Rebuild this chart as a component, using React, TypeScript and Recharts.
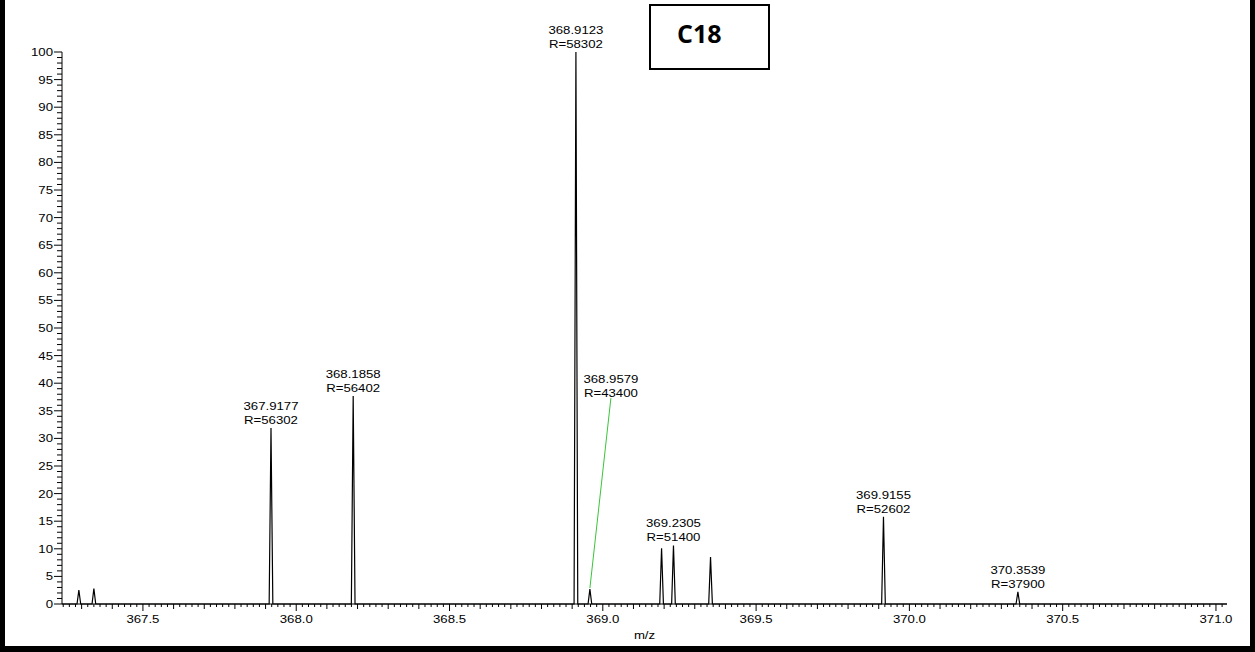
import React from 'react';
import { LineChart, Line, XAxis, YAxis } from 'recharts';

// peak list (m/z, relative abundance, resolution)
const peakMz = [367.291, 367.34, 367.9177, 368.1858, 368.9123, 368.9579, 369.1917, 369.2305, 369.3514, 369.9155, 370.3539];
const peakIntensity = [2.5, 2.8, 31.9, 37.7, 100, 2.7, 10.1, 10.6, 8.5, 15.8, 2.2];
const peakResolution: (number | null)[] = [null, null, 56302, 56402, 58302, 43400, null, 51400, null, 52602, 37900];
const calloutMz = 368.9579;

const xDomain: [number, number] = [367.236, 371.036];
const sampleTitle = 'C18';

const FONT = "'Liberation Sans', Arial, sans-serif";
const SX = 1.2;
const HALF = 0.006;

type Pt = { mz: number; y: number; peak?: number };

// build a stick-like profile: baseline, triangle per peak, baseline
const points: Pt[] = [{ mz: xDomain[0], y: 0 }];
peakMz.forEach((m, i) => {
  points.push({ mz: m - HALF, y: 0 });
  points.push({ mz: m, y: peakIntensity[i], peak: i });
  points.push({ mz: m + HALF, y: 0 });
});
points.push({ mz: xDomain[1], y: 0 });

const yTicks: number[] = [];
for (let i = 0; i <= 100; i++) yTicks.push(i);
const xTicks: number[] = [];
for (let i = 18362; i <= 18551; i++) xTicks.push(i / 50);

const Txt = ({ x, y, anchor = 'middle', size = 11, children }: any) => (
  <text
    transform={`translate(${x},${y}) scale(${SX},1)`}
    textAnchor={anchor}
    fontSize={size}
    fontFamily={FONT}
    fill="#000"
  >
    {children}
  </text>
);

const YTick = (props: any) => {
  const { x, y, payload } = props;
  const v = payload.value;
  const major = v % 5 === 0;
  const len = major ? 8 : 5;
  return (
    <g>
      <line x1={x - len} x2={x} y1={y} y2={y} stroke="#000" strokeWidth={1} />
      {major && (
        <Txt x={x - len - 1} y={y + 4} anchor="end">
          {v}
        </Txt>
      )}
    </g>
  );
};

const XTick = (props: any) => {
  const { x, y, payload } = props;
  const v = payload.value;
  const half = Math.abs(v * 2 - Math.round(v * 2)) < 1e-6;
  const tenth = Math.abs(v * 10 - Math.round(v * 10)) < 1e-6;
  const len = half ? 7 : tenth ? 5 : 3;
  return (
    <g>
      <line x1={x} x2={x} y1={y} y2={y + len} stroke="#000" strokeWidth={1} />
      {half && (
        <Txt x={x} y={y + 19}>
          {v.toFixed(1)}
        </Txt>
      )}
    </g>
  );
};

const PeakLabel = (props: any) => {
  const { x, y, index } = props;
  const p = points[index];
  if (!p || p.peak === undefined) return <g />;
  const res = peakResolution[p.peak];
  if (res == null) return <g />;
  const mz = peakMz[p.peak];
  if (mz === calloutMz) {
    const tx = x + 21;
    const ty = y - 192;
    return (
      <g>
        <line x1={tx} y1={ty + 1} x2={x} y2={y - 1} stroke="#3ac43a" strokeWidth={1} />
        <Txt x={tx} y={ty - 14}>{mz.toFixed(4)}</Txt>
        <Txt x={tx} y={ty}>{`R=${res}`}</Txt>
      </g>
    );
  }
  return (
    <g>
      <Txt x={x} y={y - 18}>{mz.toFixed(4)}</Txt>
      <Txt x={x} y={y - 4}>{`R=${res}`}</Txt>
    </g>
  );
};

export default function App() {
  return (
    <div style={{ position: 'absolute', left: 0, top: 0, width: 1255, height: 652, background: '#000' }}>
      <div style={{ position: 'absolute', left: 5, top: 0, width: 1245, height: 646, background: '#fff' }}>
        <LineChart width={1245} height={646} data={points} margin={{ top: 52, right: 23, bottom: 0, left: 0 }}>
          <XAxis
            dataKey="mz"
            type="number"
            domain={xDomain}
            ticks={xTicks}
            interval={0}
            tickSize={0}
            tickMargin={0}
            height={42}
            axisLine={{ stroke: '#000' }}
            tick={<XTick />}
            label={{
              value: 'm/z',
              content: (p: any) => (
                <Txt x={p.viewBox.x + p.viewBox.width / 2} y={p.viewBox.y + 35}>
                  m/z
                </Txt>
              ),
            }}
          />
          <YAxis
            type="number"
            domain={[0, 100]}
            ticks={yTicks}
            interval={0}
            width={57}
            tickSize={0}
            tickMargin={0}
            axisLine={{ stroke: '#000' }}
            tick={<YTick />}
          />
          <Line
            type="linear"
            dataKey="y"
            stroke="#000"
            strokeWidth={1.2}
            dot={false}
            label={<PeakLabel />}
            isAnimationActive={false}
          />
        </LineChart>
        <svg style={{ position: 'absolute', left: 644, top: 4 }} width={126} height={66}>
          <rect x={1} y={1} width={119} height={64} fill="#fff" stroke="#000" strokeWidth={2} />
          <text x={28} y={39} fontFamily="'Open Sans', sans-serif" fontWeight={700} fontSize={25} fill="#000">
            {sampleTitle}
          </text>
        </svg>
      </div>
    </div>
  );
}
